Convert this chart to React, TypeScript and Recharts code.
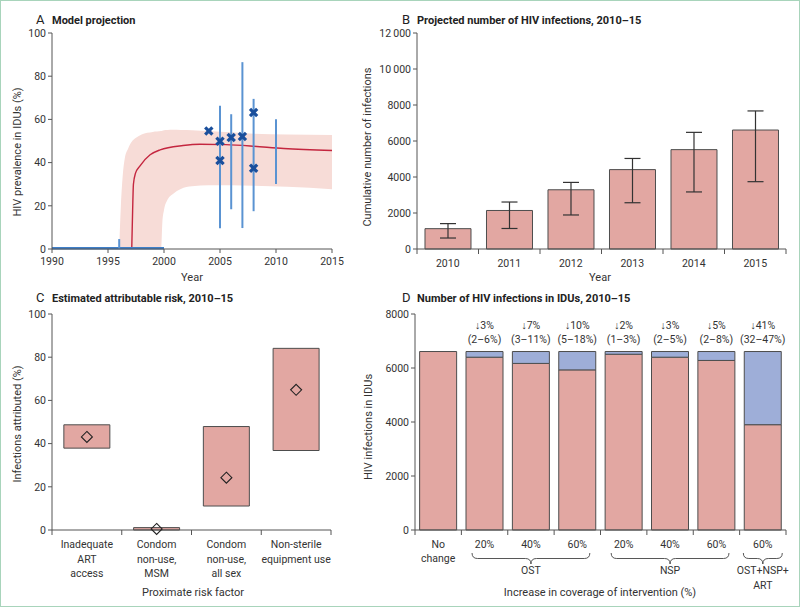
import React from 'react'
import {
  ComposedChart,
  BarChart,
  Bar,
  Line,
  Area,
  Scatter,
  XAxis,
  YAxis,
  ErrorBar,
  LabelList,
} from 'recharts'

const FONT = 'Roboto, sans-serif'
const AXIS = '#555555'
const TEXT = '#333333'
const PINK = '#e2a7a2'
const BAR_STROKE = '#4d4d4d'
const BLUE_SEG = '#9eaed8'
const BAND = '#f7dcd7'
const RED = '#c4263f'
const BLUE_LINE = '#3f7fc8'
const CI_BLUE = '#5a93d2'
const CROSS = '#1a4f9c'

// ---- A: model projection ----
const yearTicksA = [1990, 1995, 2000, 2005, 2010, 2015]
const prevTicks = [0, 20, 40, 60, 80, 100]

const bandYears = [1996, 1996.15, 1996.3, 1996.5, 1996.8, 1997.1, 1997.5, 1998, 1999, 1999.74, 1999.85, 2000, 2000.3, 2000.8, 2001.5, 2002.5, 2004, 2006, 2008, 2011, 2015]
const bandLow = [0, 0, 0, 0, 0, 0, 0, 0, 0, 0, 12, 18, 22.7, 25.5, 27.8, 29, 29.5, 29.5, 29.3, 28.8, 27.7]
const bandHigh = [0, 20, 33, 42, 46.5, 49.5, 51.5, 53, 54.2, 54.6, 54.8, 55, 55.1, 55.2, 55.1, 55, 54.6, 54, 53.4, 53, 52.8]

const modelYears = [1997.12, 1997.2, 1997.27, 1997.45, 1997.86, 1998.76, 1999.65, 2001.7, 2003.2, 2005.5, 2007.7, 2010.7, 2015]
const modelVals = [0, 18, 30, 35, 38.5, 43.6, 45.9, 47.9, 48.5, 48.3, 47.7, 46.5, 45.6]

const baseYears = [1990, 2000]
const baseVals = [0.4, 0.4]

const ciYears = [1996, 2005, 2006, 2007, 2008, 2010]
const ciLow = [0, 9.6, 18.4, 9.7, 17.5, 30.1]
const ciHigh = [4.6, 66.3, 62.4, 86.5, 69.5, 60.1]

const obsYears = [2004, 2005, 2005, 2006, 2007, 2008, 2008]
const obsVals = [54.6, 49.9, 41, 51.6, 52.1, 63.2, 37.4]

// ---- B: projected infections ----
const projYears = ['2010', '2011', '2012', '2013', '2014', '2015']
const projVals = [1130, 2140, 3290, 4410, 5520, 6610]
const projLow = [610, 1140, 1890, 2570, 3170, 3740]
const projHigh = [1410, 2610, 3700, 5030, 6480, 7670]
const infTicks = [0, 2000, 4000, 6000, 8000, 10000, 12000]

// ---- C: attributable risk ----
const riskNames = ['Inadequate ART access', 'Condom non-use, MSM', 'Condom non-use, all sex', 'Non-sterile equipment use']
const riskLines = [['Inadequate', 'ART', 'access'], ['Condom', 'non-use,', 'MSM'], ['Condom', 'non-use,', 'all sex'], ['Non-sterile', 'equipment use']]
const riskLow = [37.9, 0, 11.1, 36.8]
const riskHigh = [48.7, 1.1, 47.9, 84.1]
const riskMid = [43.1, 0.5, 24.2, 64.9]

// ---- D: infections by intervention ----
const interventions = ['No change', 'OST 20%', 'OST 40%', 'OST 60%', 'NSP 20%', 'NSP 40%', 'NSP 60%', 'OST+NSP+ART 60%']
const interventionLines = [['No', 'change'], ['20%'], ['40%'], ['60%'], ['20%'], ['40%'], ['60%'], ['60%']]
const remaining = [6610, 6400, 6170, 5930, 6510, 6400, 6280, 3900]
const averted = [0, 210, 440, 680, 100, 210, 330, 2710]
const reductionPct = ['', '↓3%', '↓7%', '↓10%', '↓2%', '↓3%', '↓5%', '↓41%']
const reductionCI = ['', '(2–6%)', '(3–11%)', '(5–18%)', '(1–3%)', '(2–5%)', '(2–8%)', '(32–47%)']
const groupNames = [['OST'], ['NSP'], ['OST+NSP+', 'ART']]
const groupFrom = [1, 4, 7]
const groupTo = [3, 6, 7]
const dTicks = [0, 2000, 4000, 6000, 8000]

const bandData = bandYears.map((year, i) => ({ year, range: [bandLow[i], bandHigh[i]] }))
const modelData = modelYears.map((year, i) => ({ year, v: modelVals[i] }))
const baseData = baseYears.map((year, i) => ({ year, v: baseVals[i] }))
const ciData = ciYears.map((year, i) => {
  const mid = (ciLow[i] + ciHigh[i]) / 2
  return { year, mid, err: [mid - ciLow[i], ciHigh[i] - mid] }
})
const obsData = obsYears.map((year, i) => ({ year, v: obsVals[i] }))
const projData = projYears.map((year, i) => ({
  year,
  v: projVals[i],
  err: [projVals[i] - projLow[i], projHigh[i] - projVals[i]],
}))
const riskData = riskNames.map((name, i) => ({ name, range: [riskLow[i], riskHigh[i]], mid: riskMid[i] }))
const dData = interventions.map((name, i) => ({
  name,
  remaining: remaining[i],
  averted: averted[i],
  pct: reductionPct[i],
  ci: reductionCI[i],
}))

const tickStyle = { fontSize: 10.5, fill: TEXT }

function Cross(p: any) {
  const { cx, cy } = p
  const s = 3.6
  return (
    <g stroke={CROSS} strokeWidth={3.2} strokeLinecap="butt">
      <line x1={cx - s} y1={cy - s} x2={cx + s} y2={cy + s} />
      <line x1={cx - s} y1={cy + s} x2={cx + s} y2={cy - s} />
    </g>
  )
}

function Diamond(p: any) {
  const { cx, cy } = p
  if (cx == null || cy == null) return null
  const s = 5.5
  return (
    <polygon
      key={`d-${p.index}`}
      points={`${cx},${cy - s} ${cx + s},${cy} ${cx},${cy + s} ${cx - s},${cy}`}
      fill="none"
      stroke="#222"
      strokeWidth={1.1}
    />
  )
}

// category tick with tick marks at the band edges instead of the centres
function bandTick(band: number, count: number, lines: string[][], gap: number) {
  return (p: any) => {
    const { x, y, index } = p
    const l = x - band / 2
    const r = x + band / 2
    return (
      <g>
        <line x1={l} x2={l} y1={y} y2={y + 5} stroke={AXIS} />
        {index === count - 1 && <line x1={r} x2={r} y1={y} y2={y + 5} stroke={AXIS} />}
        {lines[index].map((t, i) => (
          <text key={i} x={x} y={y + 18 + i * gap} textAnchor="middle" fontSize={10.5} fill={TEXT}>
            {t}
          </text>
        ))}
      </g>
    )
  }
}

const dBand = 371 / 8
function DTick(p: any) {
  const { x, y, index } = p
  const base = bandTick(dBand, interventions.length, interventionLines, 14)(p)
  const g = groupFrom.indexOf(index)
  let brace = null
  if (g >= 0) {
    const span = (groupTo[g] - groupFrom[g]) * dBand
    const pad = span === 0 ? 0.42 * dBand : 0.27 * dBand
    const x0 = x - pad
    const x1 = x + span + pad
    const xm = (x0 + x1) / 2
    const yt = y + 23
    const ym = yt + 5.5
    const yb = yt + 11
    const r = 5.5
    const d = `M${x0},${yt} Q${x0},${ym} ${x0 + r},${ym} L${xm - r},${ym} Q${xm},${ym} ${xm},${yb} Q${xm},${ym} ${xm + r},${ym} L${x1 - r},${ym} Q${x1},${ym} ${x1},${yt}`
    brace = (
      <g>
        <path d={d} fill="none" stroke="#444" strokeWidth={0.9} />
        {groupNames[g].map((t, i) => (
          <text key={i} x={xm} y={y + 44 + i * 15} textAnchor="middle" fontSize={10.5} fill={TEXT}>
            {t}
          </text>
        ))}
      </g>
    )
  }
  return (
    <g>
      {base}
      {brace}
    </g>
  )
}

function fmtThousands(v: number) {
  return v >= 10000 ? `${Math.floor(v / 1000)}\u2009${String(v % 1000).padStart(3, '0')}` : String(v)
}

function Titles() {
  const t = { fontSize: 11, fill: TEXT }
  const head = { fontSize: 11, fill: '#222', fontWeight: 700 }
  const letter = { fontSize: 13, fill: '#222' }
  return (
    <svg width={800} height={607} style={{ position: 'absolute', left: 0, top: 0, pointerEvents: 'none' }}>
      <text x={36} y={23.5} {...letter}>A</text>
      <text x={52} y={23.5} {...head}>Model projection</text>
      <text x={402} y={23.5} {...letter}>B</text>
      <text x={417} y={23.5} {...head}>Projected number of HIV infections, 2010–15</text>
      <text x={36} y={302} {...letter}>C</text>
      <text x={52} y={302} {...head}>Estimated attributable risk, 2010–15</text>
      <text x={402} y={302} {...letter}>D</text>
      <text x={417} y={302} {...head}>Number of HIV infections in IDUs, 2010–15</text>

      <text x={192} y={281} textAnchor="middle" {...t}>Year</text>
      <text x={600} y={281} textAnchor="middle" {...t}>Year</text>
      <text x={193} y={596} textAnchor="middle" {...t}>Proximate risk factor</text>
      <text x={600} y={596} textAnchor="middle" {...t}>Increase in coverage of intervention (%)</text>

      <text transform="translate(20.5,152) rotate(-90)" textAnchor="middle" {...t}>HIV prevalence in IDUs (%)</text>
      <text transform="translate(371,147) rotate(-90)" textAnchor="middle" {...t}>Cumulative number of infections</text>
      <text transform="translate(21,424) rotate(-90)" textAnchor="middle" {...t}>Infections attributed (%)</text>
      <text transform="translate(372,427) rotate(-90)" textAnchor="middle" {...t}>HIV infections in IDUs</text>
    </svg>
  )
}

export default function App() {
  return (
    <div style={{ position: 'absolute', left: 0, top: 0, width: 800, height: 607, background: '#fff', fontFamily: FONT }}>
      {/* A */}
      <div style={{ position: 'absolute', left: 0, top: 0 }}>
        <ComposedChart width={400} height={300} margin={{ top: 33, right: 68, bottom: 21, left: 0 }}>
          <XAxis
            dataKey="year"
            type="number"
            domain={[1990, 2015]}
            ticks={yearTicksA}
            allowDataOverflow
            height={30}
            stroke={AXIS}
            tickSize={4}
            tickMargin={5}
            tick={tickStyle}
          />
          <YAxis type="number" domain={[0, 100]} ticks={prevTicks} width={52} stroke={AXIS} tickSize={4} tickMargin={2} tick={tickStyle} />
          <Area data={bandData} dataKey="range" type="monotone" fill={BAND} fillOpacity={1} stroke="none" isAnimationActive={false} />
          <Line data={modelData} dataKey="v" type="monotone" stroke={RED} strokeWidth={1.4} dot={false} isAnimationActive={false} />
          <Line data={baseData} dataKey="v" type="linear" stroke={BLUE_LINE} strokeWidth={2.5} dot={false} isAnimationActive={false} />
          <Scatter data={ciData} dataKey="mid" shape={() => <g />} isAnimationActive={false}>
            <ErrorBar dataKey="err" direction="y" width={0} stroke={CI_BLUE} strokeWidth={2} />
          </Scatter>
          <Scatter data={obsData} dataKey="v" shape={Cross} isAnimationActive={false} />
        </ComposedChart>
      </div>

      {/* B */}
      <div style={{ position: 'absolute', left: 340, top: 0 }}>
        <BarChart width={460} height={300} data={projData} margin={{ top: 33, right: 14, bottom: 21, left: 0 }} barCategoryGap="13%">
          <XAxis
            dataKey="year"
            height={30}
            stroke={AXIS}
            tickLine={false}
            tickSize={0}
            tickMargin={0}
            interval={0}
            tick={bandTick(369 / 6, projYears.length, projYears.map((y) => [y]), 14)}
          />
          <YAxis
            domain={[0, 12000]}
            ticks={infTicks}
            width={77}
            stroke={AXIS}
            tickSize={4}
            tickMargin={2}
            tick={tickStyle}
            tickFormatter={fmtThousands}
          />
          <Bar dataKey="v" fill={PINK} stroke={BAR_STROKE} strokeWidth={1} isAnimationActive={false}>
            <ErrorBar dataKey="err" width={8} stroke="#333" strokeWidth={1.2} />
          </Bar>
        </BarChart>
      </div>

      {/* C */}
      <div style={{ position: 'absolute', left: 0, top: 280 }}>
        <ComposedChart width={400} height={327} data={riskData} margin={{ top: 34, right: 69, bottom: 7, left: 0 }} barCategoryGap="17%">
          <XAxis
            dataKey="name"
            height={70}
            stroke={AXIS}
            tickLine={false}
            tickSize={0}
            tickMargin={0}
            interval={0}
            tick={bandTick(279 / 4, riskNames.length, riskLines, 14.5)}
          />
          <YAxis domain={[0, 100]} ticks={prevTicks} width={52} stroke={AXIS} tickSize={4} tickMargin={2} tick={tickStyle} />
          <Bar dataKey="range" fill={PINK} stroke={BAR_STROKE} strokeWidth={1} isAnimationActive={false} />
          <Line dataKey="mid" stroke="none" dot={Diamond} activeDot={false} isAnimationActive={false} />
        </ComposedChart>
      </div>

      {/* D */}
      <div style={{ position: 'absolute', left: 340, top: 280 }}>
        <BarChart width={460} height={327} data={dData} margin={{ top: 34, right: 14, bottom: 7, left: 0 }} barCategoryGap="10%">
          <XAxis dataKey="name" height={70} stroke={AXIS} tickLine={false} tickSize={0} tickMargin={0} interval={0} tick={DTick} />
          <YAxis domain={[0, 8000]} ticks={dTicks} width={75} stroke={AXIS} tickSize={4} tickMargin={2} tick={tickStyle} />
          <Bar dataKey="remaining" stackId="d" fill={PINK} stroke={BAR_STROKE} strokeWidth={1} isAnimationActive={false} />
          <Bar dataKey="averted" stackId="d" fill={BLUE_SEG} stroke={BAR_STROKE} strokeWidth={1} isAnimationActive={false}>
            <LabelList
              dataKey="pct"
              content={(p: any) =>
                p.value ? (
                  <text x={Number(p.x) + Number(p.width) / 2} y={Number(p.y) - 23} textAnchor="middle" fontSize={10.5} fill={TEXT}>
                    {p.value}
                  </text>
                ) : null
              }
            />
            <LabelList
              dataKey="ci"
              content={(p: any) =>
                p.value ? (
                  <text x={Number(p.x) + Number(p.width) / 2} y={Number(p.y) - 9} textAnchor="middle" fontSize={10.5} fill={TEXT}>
                    {p.value}
                  </text>
                ) : null
              }
            />
          </Bar>
        </BarChart>
      </div>

      <Titles />
      <div style={{ position: 'absolute', left: 0, top: 0, width: 800, height: 607, boxSizing: 'border-box', border: '1px solid #a8d4bb', pointerEvents: 'none' }} />
    </div>
  )
}
